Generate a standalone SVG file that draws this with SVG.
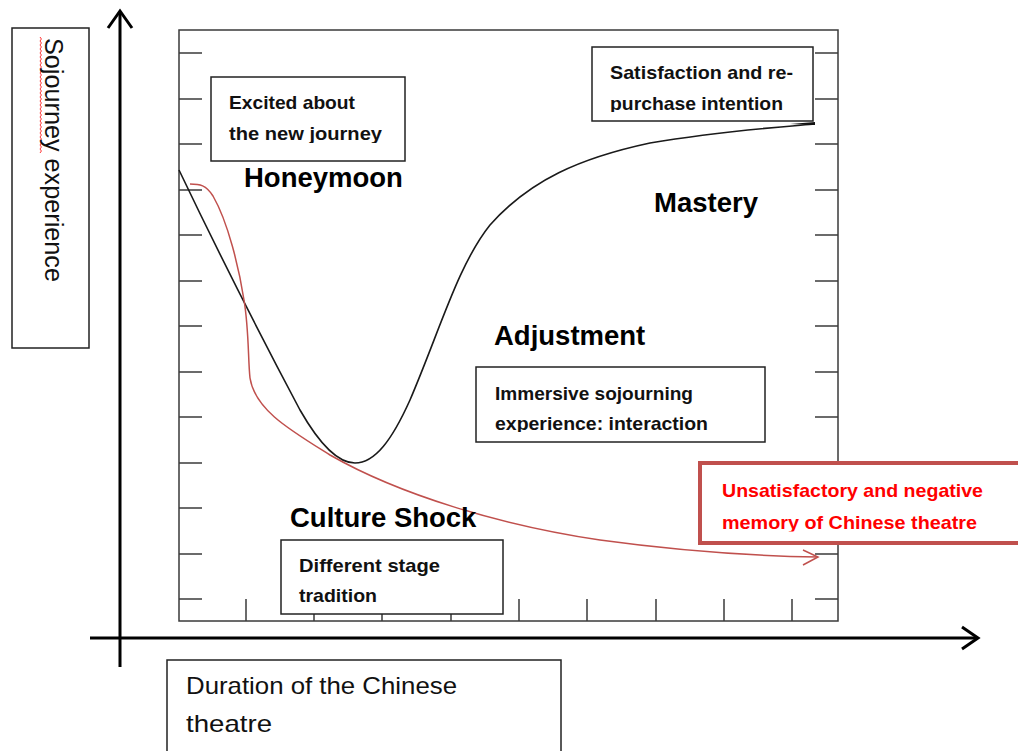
<svg xmlns="http://www.w3.org/2000/svg" width="1018" height="751" viewBox="0 0 1018 751">
<defs>
<style>
.frame{fill:none;stroke:#3a3a3a;stroke-width:1.5}
.tick{stroke:#3a3a3a;stroke-width:1.5}
.axis{stroke:#000;stroke-width:3;fill:none}
.box{fill:#fff;stroke:#222;stroke-width:1.5}
.redbox{fill:#fff;stroke:#c0504d;stroke-width:4}
.bt{font-family:"Liberation Sans",Arial,sans-serif;font-weight:bold;font-size:19px;fill:#111}
.rt{font-family:"Liberation Sans",Arial,sans-serif;font-weight:bold;font-size:19px;fill:#ff0000}
.stage{font-family:"Liberation Sans",Arial,sans-serif;font-weight:bold;font-size:27.5px;fill:#000}
.lab{font-family:"Liberation Sans",Arial,sans-serif;font-size:24px;fill:#111}
.curve{fill:none;stroke:#1a1a1a;stroke-width:1.6}
.red{fill:none;stroke:#c0504d;stroke-width:1.5}
</style>
<clipPath id="c1"><rect x="211" y="77" width="194" height="66"/></clipPath>
<clipPath id="c2"><rect x="592" y="47" width="221" height="65"/></clipPath>
<clipPath id="c3"><rect x="476" y="367" width="289" height="65"/></clipPath>
<clipPath id="c4"><rect x="700" y="463" width="318" height="68.5"/></clipPath>
</defs>
<rect width="1018" height="751" fill="#fff"/>

<g id="plot-frame">
<rect class="frame" x="179" y="30" width="659" height="591"/>
<g class="tick">
<line x1="179" y1="53" x2="202" y2="53"/><line x1="179" y1="99" x2="202" y2="99"/><line x1="179" y1="144" x2="202" y2="144"/><line x1="179" y1="190" x2="202" y2="190"/><line x1="179" y1="235" x2="202" y2="235"/><line x1="179" y1="281" x2="202" y2="281"/><line x1="179" y1="326" x2="202" y2="326"/><line x1="179" y1="372" x2="202" y2="372"/><line x1="179" y1="417" x2="202" y2="417"/><line x1="179" y1="463" x2="202" y2="463"/><line x1="179" y1="508" x2="202" y2="508"/><line x1="179" y1="554" x2="202" y2="554"/><line x1="179" y1="599" x2="202" y2="599"/>
<line x1="815" y1="53" x2="838" y2="53"/><line x1="815" y1="99" x2="838" y2="99"/><line x1="815" y1="144" x2="838" y2="144"/><line x1="815" y1="190" x2="838" y2="190"/><line x1="815" y1="235" x2="838" y2="235"/><line x1="815" y1="281" x2="838" y2="281"/><line x1="815" y1="326" x2="838" y2="326"/><line x1="815" y1="372" x2="838" y2="372"/><line x1="815" y1="417" x2="838" y2="417"/><line x1="815" y1="463" x2="838" y2="463"/><line x1="815" y1="508" x2="838" y2="508"/><line x1="815" y1="554" x2="838" y2="554"/><line x1="815" y1="599" x2="838" y2="599"/>
<line x1="246" y1="599" x2="246" y2="621"/><line x1="314" y1="599" x2="314" y2="621"/><line x1="382" y1="599" x2="382" y2="621"/><line x1="451" y1="599" x2="451" y2="621"/><line x1="519" y1="599" x2="519" y2="621"/><line x1="587" y1="599" x2="587" y2="621"/><line x1="656" y1="599" x2="656" y2="621"/><line x1="724" y1="599" x2="724" y2="621"/><line x1="792" y1="599" x2="792" y2="621"/>
</g>
</g>

<g id="axes">
<line class="axis" x1="120" y1="12" x2="120" y2="667"/>
<polyline class="axis" points="108,28 120,11 132,28"/>
<line class="axis" x1="90" y1="638" x2="977" y2="638"/>
<polyline class="axis" points="962,627 978,638 962,649"/>
</g>

<g id="connectors">
<path class="curve" d="M179,170 C210,235 255,325 300,410 C320,445 338,463 355,463 C375,463 392,440 410,400 C440,330 458,265 490,225 C530,180 580,158 650,143 C720,131 780,127 815,124"/>
<path d="M790,124 L815,122 L815,125 Z" fill="#111"/>
<path class="red" d="M190,184 C200,184 206,185 213,196 C228,222 239,268 244,300 C249,330 248,360 250,378 C255,410 290,430 330,455 C400,495 500,525 600,540 C680,551 760,556 818,557"/>
<polyline class="red" points="803,550 818,557 803,565"/>
</g>

<g id="y-label">
<rect class="box" x="12" y="28" width="77" height="320"/>
<path d="M40,37 l1.4,2 l-1.4,2 l1.4,2 l-1.4,2 l1.4,2 l-1.4,2 l1.4,2 l-1.4,2 l1.4,2 l-1.4,2 l1.4,2 l-1.4,2 l1.4,2 l-1.4,2 l1.4,2 l-1.4,2 l1.4,2 l-1.4,2 l1.4,2 l-1.4,2 l1.4,2 l-1.4,2 l1.4,2 l-1.4,2 l1.4,2 l-1.4,2 l1.4,2 l-1.4,2 l1.4,2 l-1.4,2 l1.4,2 l-1.4,2 l1.4,2 l-1.4,2 l1.4,2 l-1.4,2 l1.4,2 l-1.4,2 l1.4,2 l-1.4,2 l1.4,2 l-1.4,2 l1.4,2 l-1.4,2 l1.4,2 l-1.4,2 l1.4,2 l-1.4,2 l1.4,2 l-1.4,2 l1.4,2 l-1.4,2 l1.4,2 l-1.4,2 l1.4,2 l-1.4,2 l1.4,2 l-1.4,2" fill="none" stroke="#ff3333" stroke-width="1"/>
<text class="lab" font-size="25" transform="translate(45,38) rotate(90)" style="font-size:25px" textLength="244" lengthAdjust="spacingAndGlyphs">Sojourney experience</text>
</g>

<g id="x-label">
<rect class="box" x="167" y="660" width="394" height="100"/>
<text class="lab" x="186" y="694" textLength="271" lengthAdjust="spacingAndGlyphs">Duration of the Chinese</text>
<text class="lab" x="186" y="732" textLength="86" lengthAdjust="spacingAndGlyphs">theatre</text>
</g>

<g id="honeymoon">
<rect class="box" x="211" y="77" width="194" height="84"/>
<g clip-path="url(#c1)">
<text class="bt" x="229" y="109" textLength="126" lengthAdjust="spacingAndGlyphs">Excited about</text>
<text class="bt" x="229" y="140" textLength="153" lengthAdjust="spacingAndGlyphs">the new journey</text>
</g>
<text class="stage" x="244" y="187">Honeymoon</text>
</g>

<g id="mastery">
<rect class="box" x="592" y="47" width="221" height="74"/>
<g clip-path="url(#c2)">
<text class="bt" x="610" y="79" textLength="183" lengthAdjust="spacingAndGlyphs">Satisfaction and re-</text>
<text class="bt" x="610" y="110" textLength="173" lengthAdjust="spacingAndGlyphs">purchase  intention</text>
</g>
<text class="stage" x="654" y="212">Mastery</text>
</g>

<g id="adjustment">
<text class="stage" x="494" y="345">Adjustment</text>
<rect class="box" x="476" y="367" width="289" height="75"/>
<g clip-path="url(#c3)">
<text class="bt" x="495" y="400" textLength="198" lengthAdjust="spacingAndGlyphs">Immersive sojourning</text>
<text class="bt" x="495" y="430" textLength="213" lengthAdjust="spacingAndGlyphs">experience:  interaction</text>
</g>
</g>

<g id="negative-memory">
<rect class="redbox" x="700" y="463" width="330" height="80"/>
<g clip-path="url(#c4)">
<text class="rt" x="722" y="497" textLength="261" lengthAdjust="spacingAndGlyphs">Unsatisfactory and negative</text>
<text class="rt" x="722" y="529" textLength="255" lengthAdjust="spacingAndGlyphs">memory of Chinese theatre</text>
</g>
</g>

<g id="culture-shock">
<text class="stage" x="290" y="527">Culture Shock</text>
<rect class="box" x="281" y="540" width="222" height="74"/>
<text class="bt" x="299" y="572" textLength="141" lengthAdjust="spacingAndGlyphs">Different stage</text>
<text class="bt" x="299" y="602" textLength="78" lengthAdjust="spacingAndGlyphs">tradition</text>
</g>
</svg>
